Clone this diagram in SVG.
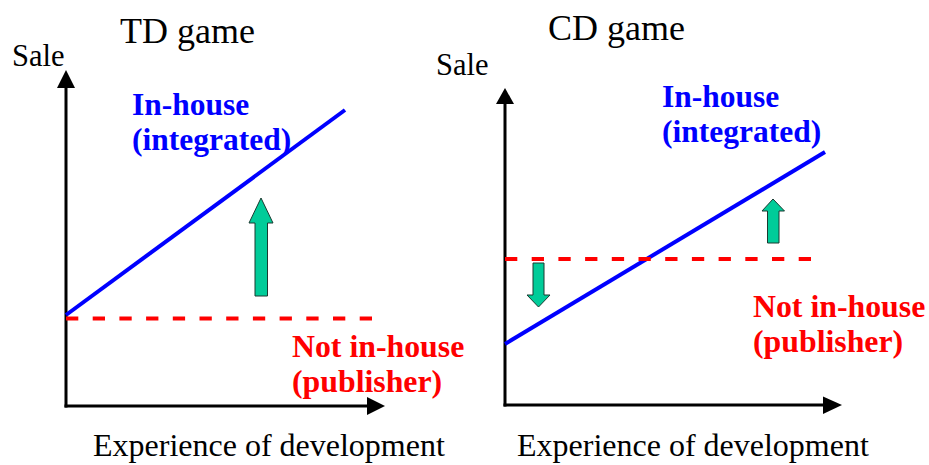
<svg xmlns="http://www.w3.org/2000/svg" width="929" height="465" viewBox="0 0 929 465">
<style>
text{font-family:"Liberation Serif","Times New Roman",serif}
.t{font-size:36px;fill:#000}
.a{font-size:30.5px;fill:#000}
.x{font-size:32px;fill:#000}
.b{font-size:31.5px;font-weight:bold;fill:#0000FF}
.r{font-size:31.8px;font-weight:bold;fill:#FF0000}
.ax{stroke:#000;stroke-width:3;fill:none}
.hd{fill:#000}
.bl{stroke:#0000FF;stroke-width:4;fill:none}
.rd{stroke:#FF0000;stroke-width:4;stroke-dasharray:12.3 14.4;fill:none}
.gr{fill:#00CC99;stroke:#1a3a30;stroke-width:1}
</style>
<rect width="929" height="465" fill="#fff"/>
<g id="td-panel">
<g id="td-axes">
<line class="ax" x1="66" y1="86" x2="66" y2="407.5"/>
<polygon class="hd" points="66,70 57,88 75,88"/>
<line class="ax" x1="64.5" y1="406" x2="370" y2="406"/>
<polygon class="hd" points="385,406 367,397 367,415"/>
</g>
<text class="t" x="120" y="43">TD game</text>
<text class="a" x="12" y="66">Sale</text>
<text class="x" x="93" y="456">Experience of development</text>
<g id="td-inhouse">
<line class="bl" x1="66" y1="315" x2="345" y2="110"/>
<text class="b" x="132" y="115">In-house</text>
<text class="b" x="132" y="150">(integrated)</text>
</g>
<g id="td-publisher">
<line class="rd" x1="66" y1="318.5" x2="378" y2="318.5"/>
<text class="r" x="292" y="357">Not in-house</text>
<text class="r" x="292" y="392">(publisher)</text>
</g>
<g id="td-arrow-up">
<polygon class="gr" points="261,198 273,223 267.5,223 267.5,296 255,296 255,223 249,223"/>
</g>
</g>
<g id="cd-panel">
<g id="cd-axes">
<line class="ax" x1="505" y1="101" x2="505" y2="406.5"/>
<polygon class="hd" points="505,88 496,104 514,104"/>
<line class="ax" x1="503.5" y1="405" x2="826" y2="405"/>
<polygon class="hd" points="842,405 823,396.5 823,414"/>
</g>
<text class="t" x="548" y="40">CD game</text>
<text class="a" x="436" y="75">Sale</text>
<text class="x" x="517" y="456">Experience of development</text>
<g id="cd-inhouse">
<line class="bl" x1="505" y1="344" x2="825" y2="152"/>
<text class="b" x="662" y="107">In-house</text>
<text class="b" x="662" y="142">(integrated)</text>
</g>
<g id="cd-publisher">
<line class="rd" x1="505" y1="259" x2="815" y2="259"/>
<text class="r" x="753" y="317">Not in-house</text>
<text class="r" x="753" y="352">(publisher)</text>
</g>
<g id="cd-arrow-up">
<polygon class="gr" points="773,199 784.5,211 779,211 779,243 767.5,243 767.5,211 762,211"/>
</g>
<g id="cd-arrow-down">
<polygon class="gr" points="533,263 544,263 544,295 550,295 538.5,307 527,295 533,295"/>
</g>
</g>
</svg>
